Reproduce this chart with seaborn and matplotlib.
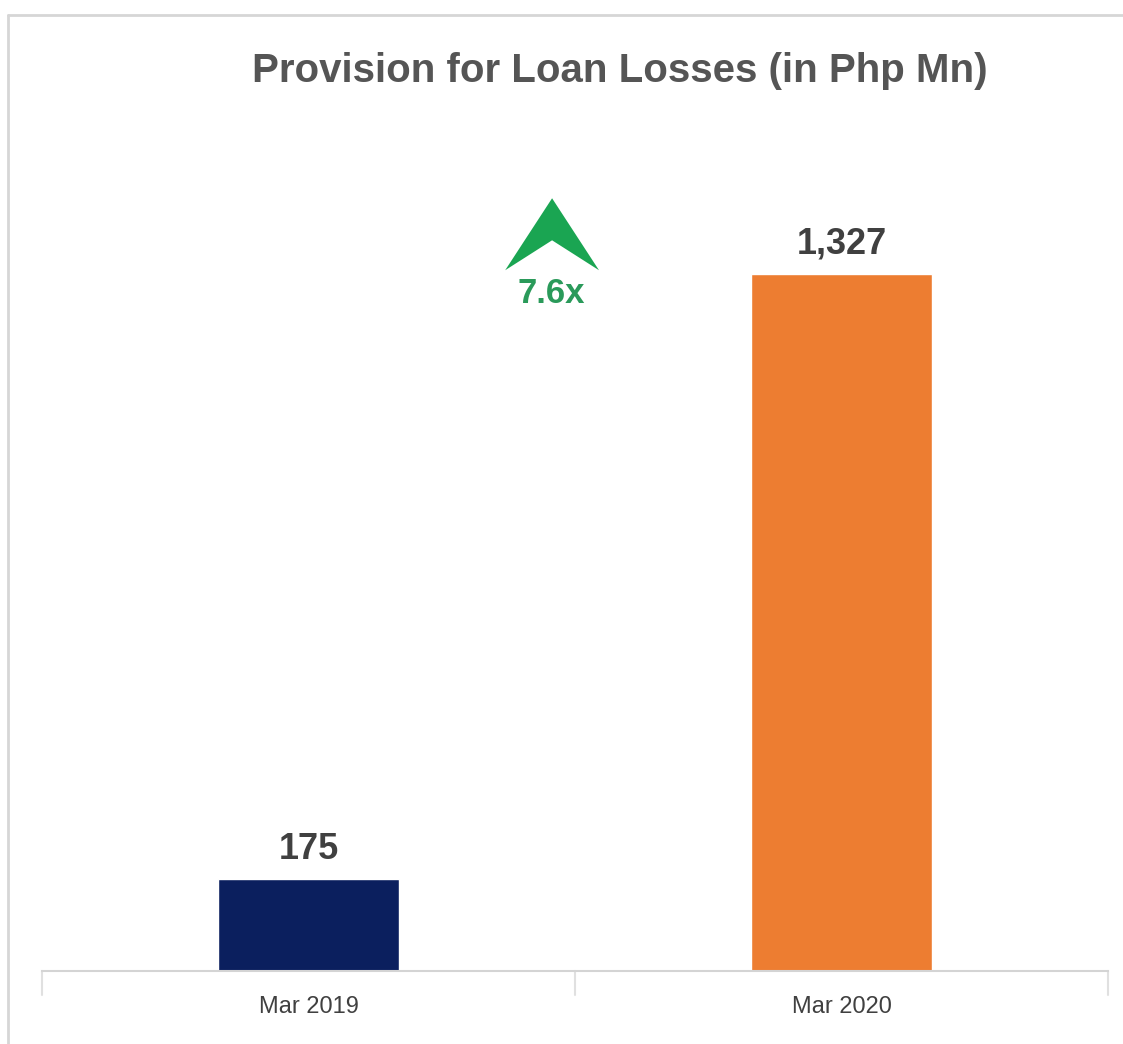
import matplotlib
matplotlib.use("Agg")
import matplotlib.pyplot as plt
from matplotlib.patches import Polygon
from matplotlib.lines import Line2D
from matplotlib import font_manager
import seaborn as sns
import pandas as pd

# Data
periods = ["Mar 2019", "Mar 2020"]
provisions = [175, 1327]
bar_colors = ["#0b1f5e", "#ed7d31"]

sns.set_theme(style="white")
plt.rcParams["font.family"] = ["Liberation Sans", "DejaVu Sans"]

installed = {f.name for f in font_manager.fontManager.ttflist}
tick_family = "Liberation Sans Narrow" if "Liberation Sans Narrow" in installed else "Liberation Sans"
tick_size = 21 if tick_family == "Liberation Sans Narrow" else 17

W, H = 1123, 1044
fig = plt.figure(figsize=(W / 100, H / 100), dpi=100)
fig.patch.set_facecolor("white")

# axes placed in pixel terms
ax_left, ax_right, ax_bottom, ax_top = 42, 1108, 971, 120
ax = fig.add_axes([ax_left / W, 1 - ax_bottom / H,
                   (ax_right - ax_left) / W, (ax_bottom - ax_top) / H])

df = pd.DataFrame({"period": periods, "value": provisions})
sns.barplot(data=df, x="period", y="value", hue="period",
            palette=bar_colors, width=0.34, legend=False, ax=ax,
            saturation=1)

ymax = 1620
ax.set_xlim(-0.5, 1.5)
ax.set_ylim(0, ymax)
ax.set_xlabel("")
ax.set_ylabel("")
ax.set_yticks([])
for s in ["top", "right", "left"]:
    ax.spines[s].set_visible(False)
ax.spines["bottom"].set_color("#d4d4d4")
ax.spines["bottom"].set_linewidth(1.5)
ax.tick_params(axis="x", length=0, pad=18, labelcolor="#404040")
for lab in ax.get_xticklabels():
    lab.set_family(tick_family)
    lab.set_fontsize(tick_size)

# category separators below the baseline
px_per_unit = (ax_bottom - ax_top) / ymax
for xb in [-0.5, 0.5, 1.5]:
    ax.plot([xb, xb], [0, -24 / px_per_unit], color="#e0e0e0", lw=1.5,
            clip_on=False)

# value labels
for i, v in enumerate(provisions):
    ax.text(i, v + 20 / px_per_unit, f"{v:,}", ha="center", va="baseline",
            fontsize=26, fontweight="bold", color="#404040")

# growth marker
ratio = provisions[1] / provisions[0]
ax_x = 0.457
apex = 1471
base = 1334
notch = 1391
half = 0.088
arrow = Polygon([[ax_x, apex], [ax_x + half, base], [ax_x, notch],
                 [ax_x - half, base]], closed=True, facecolor="#1aa552",
                edgecolor="none", clip_on=False)
ax.add_patch(arrow)
ax.text(0.456, (ax_bottom - 303) / px_per_unit, f"{ratio:.1f}x",
        ha="center", va="baseline",
        fontsize=25, fontweight="bold", color="#2a9a5a")

# title
fig.text(620 / W, 1 - 82 / H, "Provision for Loan Losses (in Php Mn)",
         ha="center", va="baseline", fontsize=29, fontweight="bold",
         color="#555555")

# panel frame
fig.add_artist(Line2D([8 / W, 1], [1 - 15 / H, 1 - 15 / H],
                      color="#d6d6d6", lw=2, transform=fig.transFigure))
fig.add_artist(Line2D([8 / W, 8 / W], [0, 1 - 15 / H],
                      color="#d6d6d6", lw=2, transform=fig.transFigure))

fig.savefig("out.png", dpi=100, facecolor="white")
